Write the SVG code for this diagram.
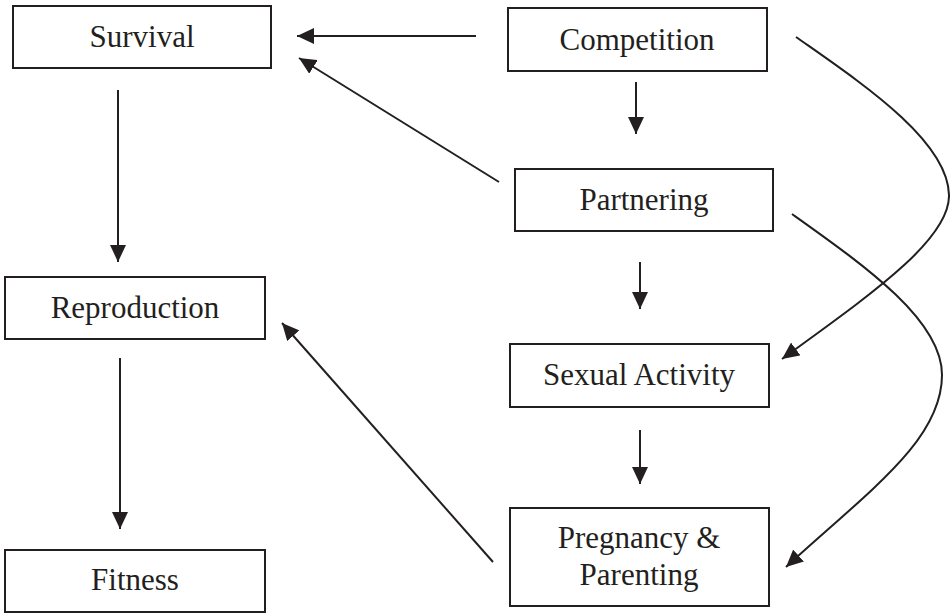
<svg xmlns="http://www.w3.org/2000/svg" width="950" height="613" viewBox="0 0 950 613">
<style>
.box{fill:#fff;stroke:#231f20;stroke-width:2}
.lbl{font-family:"Liberation Serif","Times New Roman",serif;font-size:31px;fill:#231f20;text-anchor:middle}
.c{fill:none;stroke:#231f20;stroke-width:2;marker-end:url(#ah)}
</style>
<defs>
<marker id="ah" markerUnits="userSpaceOnUse" markerWidth="19" markerHeight="16" refX="17" refY="8" orient="auto">
<path d="M0,0 L17,8 L0,16 Z" fill="#231f20"/>
</marker>
</defs>
<rect width="950" height="613" fill="#fff"/>
<g id="connectors">
<line class="c" x1="476" y1="36" x2="297" y2="36"/>
<line class="c" x1="499" y1="182" x2="299" y2="58"/>
<line class="c" x1="636" y1="82" x2="636" y2="134"/>
<line class="c" x1="118" y1="90" x2="118" y2="262"/>
<line class="c" x1="120" y1="358" x2="120" y2="529"/>
<line class="c" x1="640" y1="262" x2="640" y2="309"/>
<line class="c" x1="640" y1="430" x2="640" y2="484"/>
<line class="c" x1="493" y1="562" x2="282" y2="323"/>
<path class="c" d="M796,37 C860,82 948,140 949,195 C950,240 870,295 782,359"/>
<path class="c" d="M792,214 C865,266 942,320 942,375 C942,440 870,490 786,567"/>
</g>
<g id="survival"><rect class="box" x="13" y="6" width="258" height="62"/><text class="lbl" x="142" y="47">Survival</text></g>
<g id="competition"><rect class="box" x="508" y="8" width="259" height="63"/><text class="lbl" x="637" y="50">Competition</text></g>
<g id="partnering"><rect class="box" x="515" y="169" width="258" height="62"/><text class="lbl" x="644" y="210">Partnering</text></g>
<g id="reproduction"><rect class="box" x="5" y="277" width="260" height="62"/><text class="lbl" x="135" y="318">Reproduction</text></g>
<g id="sexual-activity"><rect class="box" x="510" y="344" width="259" height="63"/><text class="lbl" x="639" y="385">Sexual Activity</text></g>
<g id="pregnancy-parenting"><rect class="box" x="510" y="508" width="259" height="98"/><text class="lbl" x="639" y="548">Pregnancy &amp;</text><text class="lbl" x="639" y="585">Parenting</text></g>
<g id="fitness"><rect class="box" x="5" y="550" width="260" height="62"/><text class="lbl" x="135" y="590">Fitness</text></g>
</svg>
